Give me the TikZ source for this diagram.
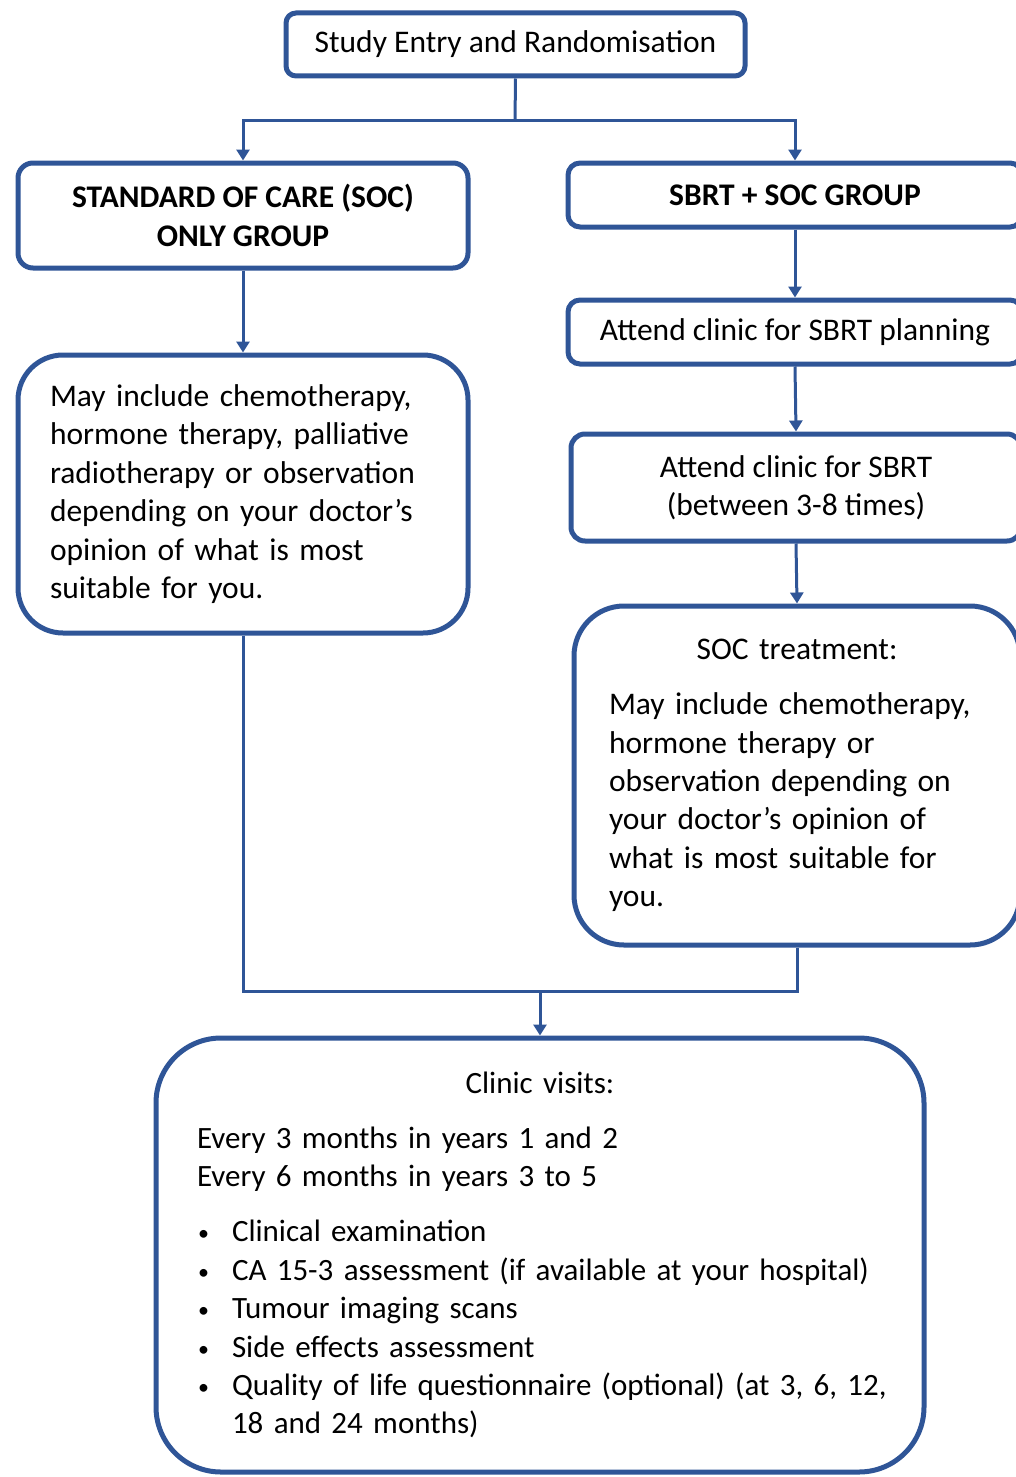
\documentclass[tikz,border=0pt]{standalone}
\usepackage{fontspec}
\setmainfont{Carlito}
\usetikzlibrary{arrows.meta}
\definecolor{boxblue}{HTML}{2F5597}
\newcommand{\bul}{\makebox[35pt][l]{\hspace{1pt}\raisebox{1pt}{\fontsize{22}{22}\selectfont\textbullet}}}
\begin{document}
\begin{tikzpicture}[x=1pt,y=-1pt,
  box/.style={draw=boxblue, line width=5pt, fill=white, inner sep=0pt, align=center,
    font=\fontsize{31.5}{38.4}\selectfont},
  arr/.style={draw=boxblue, line width=3pt, -{Triangle[width=13pt,length=11pt]}},
  ln/.style={draw=boxblue, line width=3pt}]
\useasboundingbox (0,0) rectangle (1016,1477);
\clip (0,0) rectangle (1016,1477);

\node[box, rounded corners=10pt, minimum width=459pt, minimum height=63pt] (top) at (515.5,44.5) {Study Entry and Randomisation};

\node[box, rounded corners=15pt, minimum width=450pt, minimum height=105pt, font=\fontsize{31.5}{38.4}\selectfont\bfseries] (soc) at (243,215.5) {STANDARD OF CARE (SOC)\\ONLY GROUP};

\node[box, rounded corners=12pt, minimum width=454pt, minimum height=64pt, font=\fontsize{31.5}{38.4}\selectfont\bfseries] (sbrt) at (795,195) {SBRT + SOC GROUP};

\node[box, rounded corners=12pt, minimum width=454pt, minimum height=64pt] (plan) at (795,332) {Attend clinic for SBRT planning};

\node[box, rounded corners=14pt, minimum width=450pt, minimum height=107pt] (sbrtx) at (796,487.5) {Attend clinic for SBRT\\(between 3-8 times)};

\node[box, rounded corners=45pt, minimum width=450pt, minimum height=278pt, text width=386pt, align=left] (socbody) at (243,494) {May include chemotherapy,\\hormone therapy, palliative\\radiotherapy or observation\\depending on your doctor’s\\opinion of what is most\\suitable for you.};

\node[box, rounded corners=50pt, minimum width=446pt, minimum height=339pt, text width=376pt, align=left] (soct) at (797,775.5) {{\centering SOC treatment:\par}\vspace{16.6pt}\raggedright May include chemotherapy,\\hormone therapy or\\observation depending on\\your doctor’s opinion of\\what is most suitable for\\you.};

\node[box, rounded corners=65pt, minimum width=768pt, minimum height=434pt, text width=686pt, align=left, font=\fontsize{31}{38.4}\selectfont] (clinic) at (540,1255) {{\centering Clinic visits:\par}\vspace{16.6pt}\raggedright Every 3 months in years 1 and 2\\Every 6 months in years 3 to 5\par\vspace{16.6pt}
\bul Clinical examination\par
\bul CA 15-3 assessment (if available at your hospital)\par
\bul Tumour imaging scans\par
\bul Side effects assessment\par
\bul\parbox[t]{651pt}{\raggedright\mbox{Quality of life questionnaire (optional) (at 3, 6, 12,}\\18 and 24 months)}};

\coordinate (split) at (515,121);
\coordinate (join) at (540,991);

\draw[ln] (top.south) -- (split);
\draw[arr] (split) -| (soc.north);
\draw[arr] (split) -| (sbrt.north);
\draw[arr] (soc.south) -- (socbody.north);
\draw[arr] (sbrt.south) -- (plan.north);
\draw[arr] (plan.south) -- (sbrtx.north);
\draw[arr] (sbrtx.south) -- (soct.north);
\draw[ln] (socbody.south) |- (join);
\draw[ln] (soct.south) |- (join);
\draw[arr] (join) -- (clinic.north);
\end{tikzpicture}
\end{document}
